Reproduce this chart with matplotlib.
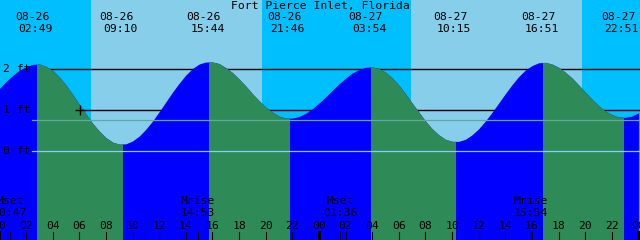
import numpy as np
import matplotlib
matplotlib.use('Agg')
import matplotlib.pyplot as plt
from matplotlib.patches import Rectangle

station = 'Fort Pierce Inlet, Florida'

# tide height (ft) every half hour, hour 0 = 08-26 00:00
hours = np.arange(0, 48.5, 0.5)
height_ft = [1.53, 1.70, 1.85, 1.98, 2.07, 2.12, 2.13, 2.07, 1.97, 1.81,
             1.61, 1.38, 1.14, 0.90, 0.67, 0.48, 0.32, 0.21, 0.16, 0.17,
             0.24, 0.36, 0.53, 0.73, 0.96, 1.20, 1.44, 1.66, 1.86, 2.02,
             2.13, 2.18, 2.18, 2.14, 2.04, 1.92, 1.76, 1.59, 1.40, 1.23,
             1.07, 0.95, 0.85, 0.80, 0.80, 0.84, 0.92, 1.03, 1.17, 1.32,
             1.48, 1.64, 1.78, 1.91, 1.99, 2.05, 2.06, 2.02, 1.93, 1.79,
             1.61, 1.40, 1.17, 0.95, 0.73, 0.54, 0.39, 0.28, 0.23, 0.23,
             0.28, 0.39, 0.54, 0.73, 0.94, 1.17, 1.40, 1.62, 1.82, 1.98,
             2.09, 2.16, 2.17, 2.13, 2.05, 1.93, 1.79, 1.62, 1.44, 1.27,
             1.11, 0.98, 0.89, 0.83, 0.82, 0.85, 0.93]

# high / low tides
tide_dates = ['08-26', '08-26', '08-26', '08-26', '08-27', '08-27', '08-27', '08-27']
tide_times = ['02:49', '09:10', '15:44', '21:46', '03:54', '10:15', '16:51', '22:51']
tide_kind = ['high', 'low', 'high', 'low', 'high', 'low', 'high', 'low']

# sun and moon
sunrise = ['08-26 06:52', '08-27 06:55']
sunset = ['08-26 19:43', '08-27 19:46']
moon_names = ['Mset', 'Mrise', 'Mset', 'Mrise']
moon_dates = ['08-26', '08-26', '08-27', '08-27']
moon_times = ['00:47', '14:53', '01:36', '15:54']

ref_levels = [0.0, 0.75]
grid_levels = [1, 2]
now_hour, now_ft = 6.05, 1.0


def to_hours(date, hhmm):
    day = 0 if date == '08-26' else 24
    hh, mm = hhmm.split(':')
    return day + int(hh) + int(mm) / 60


tide_h = [to_hours(d, t) for d, t in zip(tide_dates, tide_times)]
rise_h = [to_hours(*s.split()) for s in sunrise]
set_h = [to_hours(*s.split()) for s in sunset]
moon_h = [to_hours(d, t) for d, t in zip(moon_dates, moon_times)]

NIGHT = '#00bfff'
DAY = '#87ceeb'
RISING = '#0000ff'
FALLING = '#2e8b57'
FONT = 'DejaVu Sans Mono'
FS = 8.2

fig = plt.figure(figsize=(6.4, 2.4), dpi=100)
ax = fig.add_axes([0, 0, 1, 1])
ax.set_xlim(0.0376, 48.12)
ax.set_ylim(-2.194, 3.703)
ax.axis('off')
ylo, yhi = ax.get_ylim()

# sky
ax.add_patch(Rectangle((0, 0), 1, 1, transform=ax.transAxes, color=NIGHT, zorder=0))
for r, s in zip(rise_h, set_h):
    ax.axvspan(r, s, color=DAY, lw=0, zorder=0.5)

for lv in grid_levels:
    ax.axhline(lv, xmin=0.05, color='black', lw=1.0, zorder=1)

# water: blue while rising, green while falling
ax.fill_between(hours, height_ft, ylo, color=RISING, lw=0, zorder=2)
for i, k in enumerate(tide_kind):
    if k == 'high' and i + 1 < len(tide_h):
        poly = ax.fill_between(hours, height_ft, ylo, color=FALLING, lw=0, zorder=3)
        clip = Rectangle((tide_h[i], ylo), tide_h[i + 1] - tide_h[i], yhi - ylo,
                         transform=ax.transData)
        poly.set_clip_path(clip)

ax.axhline(ref_levels[0], xmin=0.05, color='#87cefa', lw=0.9, zorder=4)
ax.axhline(ref_levels[1], xmin=0.05, color='#62a89e', lw=0.9, zorder=4)
ax.plot([now_hour], [now_ft], marker='+', color='black', ms=7, mew=1.0, zorder=5)

# texts
ax.text(0.5, 1 - 6 / 240, station, transform=ax.transAxes, ha='center', va='center',
        family=FONT, fontsize=FS)
for lv in [0, 1, 2]:
    ax.text(0.004, lv, f'{lv} ft', transform=ax.get_yaxis_transform(), ha='left',
            va='center', family=FONT, fontsize=FS, zorder=6)

for h, d, t in zip(tide_h, tide_dates, tide_times):
    ax.annotate(d, xy=(h, 1 - 17 / 240), xycoords=('data', 'axes fraction'),
                xytext=(-5, 0), textcoords='offset pixels', ha='center', va='center',
                family=FONT, fontsize=FS)
    ax.annotate(t, xy=(h, 1 - 29 / 240), xycoords=('data', 'axes fraction'),
                xytext=(-1.5, 0), textcoords='offset pixels', ha='center', va='center',
                family=FONT, fontsize=FS)

for h, n, t in zip(moon_h, moon_names, moon_times):
    ax.text(h, 1 - 201.5 / 240, n, transform=ax.get_xaxis_transform(), ha='center',
            va='center', family=FONT, fontsize=FS, zorder=6)
    ax.text(h, 1 - 213 / 240, t, transform=ax.get_xaxis_transform(), ha='center',
            va='center', family=FONT, fontsize=FS, zorder=6)
    ax.axvline(h, ymin=0, ymax=8 / 240, color='black', lw=0.8, zorder=6)

for h in range(0, 49, 2):
    ax.text(h, 1 - 226 / 240, f'{h % 24:02d}', transform=ax.get_xaxis_transform(),
            ha='center', va='center', family=FONT, fontsize=FS, zorder=6)
    ax.axvline(h, ymin=0, ymax=8 / 240, color='black',
               lw=2.2 if h % 24 == 0 else 0.8, zorder=6)

fig.savefig('out.png', dpi=100)
